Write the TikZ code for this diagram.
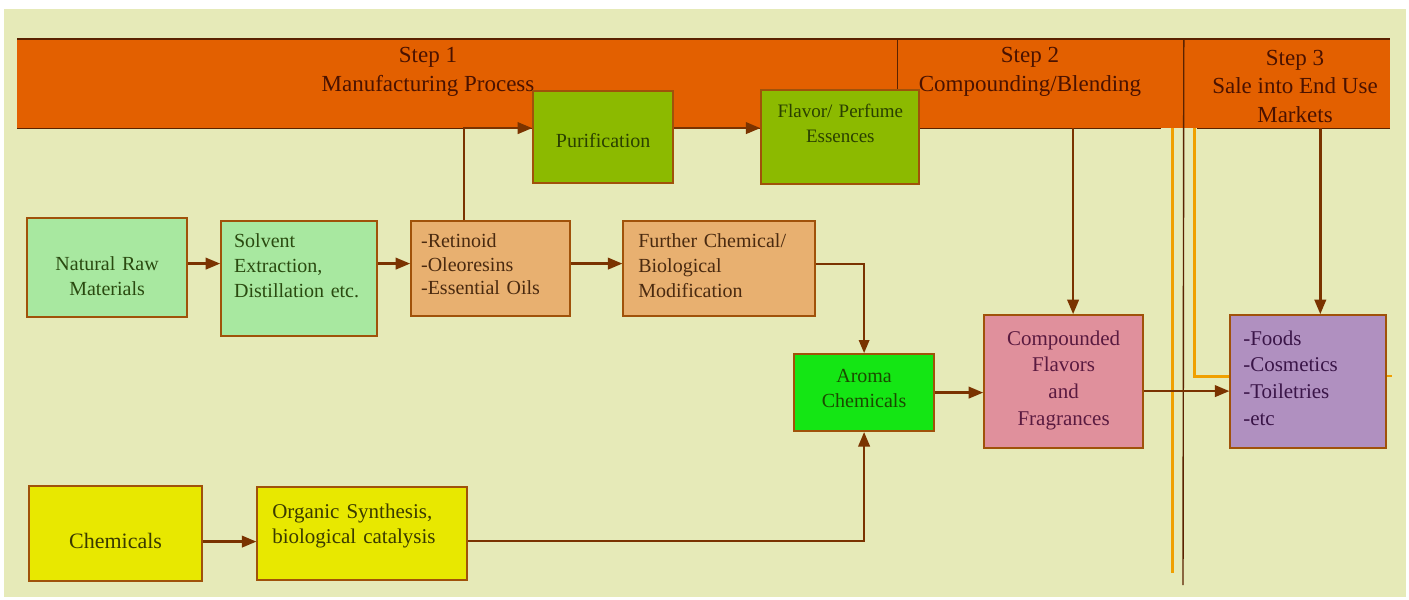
\documentclass[tikz,border=0pt]{standalone}
\usepackage{fontspec}
\setmainfont{Liberation Serif}
\usepackage{tikz}
\usetikzlibrary{arrows}
\usetikzlibrary{positioning}

\definecolor{pageBack}{HTML}{E6EAB8}
\definecolor{bandOrange}{HTML}{E36000}
\definecolor{bandRuleColor}{HTML}{5A2200}
\definecolor{bandText}{HTML}{4A1200}
\definecolor{boxEdge}{HTML}{A0520A}
\definecolor{flowBrown}{HTML}{7A3300}
\definecolor{railOrange}{HTML}{F0A000}
\definecolor{essenceGreen}{HTML}{8CBA00}
\definecolor{essenceText}{HTML}{2A4000}
\definecolor{plantGreen}{HTML}{A8E8A0}
\definecolor{plantText}{HTML}{2A4A10}
\definecolor{oilTan}{HTML}{E8B070}
\definecolor{oilText}{HTML}{4A2A10}
\definecolor{aromaGreen}{HTML}{14E614}
\definecolor{aromaText}{HTML}{1A4A00}
\definecolor{blendPink}{HTML}{E0909C}
\definecolor{blendText}{HTML}{5A1A40}
\definecolor{marketPurple}{HTML}{B090C0}
\definecolor{marketText}{HTML}{3A1548}
\definecolor{synthYellow}{HTML}{E8E800}
\definecolor{synthText}{HTML}{3A3A00}

\begin{document}
\begin{tikzpicture}
      [x=1pt,y=-1pt,
       stageBox/.style={rectangle,draw=boxEdge,line width=2.2pt,inner xsep=0pt,inner ysep=0pt,align=center,font=\fontsize{20}{25}\selectfont},
       listBox/.style={stageBox,align=left,inner xsep=#1},
       lineRows/.style 2 args={text height=#1,text depth=#2},
       flowArrow/.style={draw=flowBrown,line width=2.4pt,-triangle 45},
       railLine/.style={draw=railOrange,line width=3pt},
       bandRule/.style={draw=bandRuleColor,line width=1.6pt},
       stepBand/.style={rectangle,fill=bandOrange,inner sep=0pt,minimum height=89pt,anchor=north west},
       stepLabel/.style={align=center,text=bandText,inner sep=0pt,font=\fontsize{23}{28.5}\selectfont}]
      \useasboundingbox (0,0) rectangle (1409,600);
      \fill[white] (0,0) rectangle (1409,600);
      \fill[pageBack] (4,9) rectangle (1406,597);

      % step band
      \node[stepBand,minimum width=880pt] (stepOne) at (17,39) {};
      \node[stepBand,minimum width=286pt,right=0pt of stepOne] (stepTwo) {};
      \node[stepBand,minimum width=206pt,right=0pt of stepTwo] (stepThree) {};
      \draw[bandRule] (stepOne.north west) -- (stepThree.north east);
      \draw[bandRule] (stepOne.south west) -- ([xshift=-23pt]stepTwo.south east);
      \draw[bandRule] ([xshift=13pt]stepThree.south west) -- (stepThree.south east);
      \draw[bandRule] (stepTwo.north west) -- (stepTwo.south west);
      \node[stepLabel] (stepOneLabel) at (428,72) {Step 1\\Manufacturing Process};
      \node[stepLabel] (stepTwoLabel) at (1030,72) {Step 2\\Compounding/Blending};
      \node[stepLabel] (stepThreeLabel) at (1295,86) {Step 3\\Sale into End Use\\Markets};

      % boxes
      \node[stageBox,fill=plantGreen,text=plantText,text width=160pt,lineRows={52.5pt}{46.5pt},anchor=north west] (natural) at (26,217) {Natural Raw\\Materials};
      \node[listBox=13pt,fill=plantGreen,text=plantText,text width=130pt,lineRows={26.5pt}{88.5pt},anchor=north west] (solvent) at (220,220) {Solvent\\Extraction,\\Distillation etc.};
      \node[listBox=10pt,fill=oilTan,text=oilText,text width=139pt,lineRows={26.5pt}{68.5pt},font=\fontsize{20}{23.5}\selectfont,anchor=north west] (retinoid) at (410,220) {-Retinoid\\-Oleoresins\\-Essential Oils};
      \node[listBox=15pt,fill=oilTan,text=oilText,text width=162pt,lineRows={26.5pt}{68.5pt},right=51pt of retinoid] (further) {Further Chemical/\\Biological\\Modification};
      \node[stageBox,fill=essenceGreen,text=essenceText,text width=140pt,lineRows={56.5pt}{35.5pt},anchor=north west] (purification) at (532,90) {Purification};
      \node[stageBox,fill=essenceGreen,text=essenceText,text width=158pt,lineRows={27.5pt}{66.5pt},font=\fontsize{19}{25}\selectfont,right=86pt of purification] (flavor) {Flavor/ Perfume\\Essences};
      \node[stageBox,fill=aromaGreen,text=aromaText,text width=140pt,lineRows={28.5pt}{48.5pt},anchor=north west] (aroma) at (793,353) {Aroma\\Chemicals};
      \node[stageBox,fill=blendPink,text=blendText,text width=159pt,lineRows={30pt}{103pt},font=\fontsize{21}{26.7}\selectfont,anchor=north west] (compounded) at (983,314) {Compounded\\Flavors\\and\\Fragrances};
      \node[listBox=13pt,fill=marketPurple,text=marketText,text width=130pt,lineRows={30pt}{103pt},font=\fontsize{21}{26.7}\selectfont,right=85pt of compounded] (foods) {-Foods\\-Cosmetics\\-Toiletries\\-etc};
      \node[stageBox,fill=synthYellow,text=synthText,text width=173pt,lineRows={62.5pt}{32.5pt},font=\fontsize{22}{26}\selectfont,anchor=north west] (chemicals) at (28,485) {Chemicals};
      \node[listBox=15pt,fill=synthYellow,text=synthText,text width=180pt,lineRows={31.5pt}{61.5pt},font=\fontsize{21}{25}\selectfont,right=53pt of chemicals] (organic) {Organic Synthesis,\\biological catalysis};

      % rails between step 2 and step 3
      \coordinate (leftRailEnd) at (1172,573);
      \coordinate (midRailEnd) at (1183,585);
      \coordinate (rightRailTop) at (1194,128);
      \draw[railLine] (leftRailEnd |- stepTwo.south) -- (leftRailEnd);
      \draw[railLine] (rightRailTop) |- ([yshift=5.5pt]foods.west);
      \draw[railLine,line width=2pt] ([yshift=5.5pt]foods.east) -- ++(5,0);
      \draw[bandRule,line width=1.4pt] (stepThree.north west) -- (midRailEnd);

      % connectors
      \draw[flowArrow] ([yshift=4pt]natural.east) -- ([yshift=4pt]natural.east -| solvent.west);
      \draw[flowArrow] ([yshift=5pt]retinoid.west -| solvent.east) -- ([yshift=5pt]retinoid.west);
      \draw[flowArrow] ([yshift=5pt]retinoid.east) -- ([yshift=5pt]further.west);
      \draw[flowArrow] ([xshift=-26.5pt]retinoid.north) |- ([yshift=9pt]purification.west);
      \draw[flowArrow] ([yshift=9pt]purification.east) -- ([yshift=9pt]flavor.west);
      \draw[flowArrow,line width=2pt] ([yshift=5pt]further.east) -| (aroma.north);
      \draw[flowArrow] ([yshift=-8pt]chemicals.east) -- ([yshift=-8pt]chemicals.east -| organic.west);
      \draw[flowArrow] ([yshift=-7.5pt]organic.east) -| (aroma.south);
      \draw[flowArrow] (aroma.east) -- (aroma.east -| compounded.west);
      \draw[flowArrow] ([yshift=-9.5pt]compounded.east) -- ([yshift=-9.5pt]foods.west);
      \draw[flowArrow] ([xshift=9.5pt]compounded.north |- stepTwo.south) -- ([xshift=9.5pt]compounded.north);
      \draw[flowArrow] ([xshift=12pt]foods.north |- stepThree.south) -- ([xshift=12pt]foods.north);
    \end{tikzpicture}
\end{document}
